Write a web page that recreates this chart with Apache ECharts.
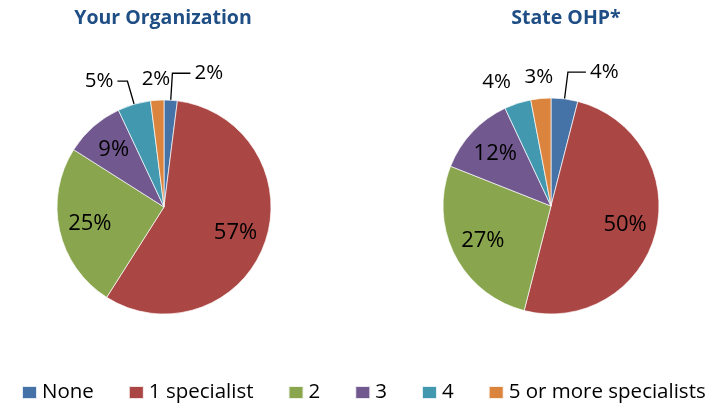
<!DOCTYPE html>
<html>
<head>
<meta charset="utf-8">
<script src="https://cdn.jsdelivr.net/npm/echarts@6/dist/echarts.min.js"></script>
<style>
  html, body { margin: 0; padding: 0; background: #ffffff; }
  #chart { width: 714px; height: 405px; }
</style>
</head>
<body>
<div id="chart"></div>
<script>
// Number of specialists on staff, share of respondents (%)
const categories = ['None', '1 specialist', '2', '3', '4', '5 or more specialists'];
const yourOrganization = [2, 57, 25, 9, 5, 2];
const stateOHP = [4, 50, 27, 12, 4, 3];
const panelTitles = ['Your Organization', 'State OHP*'];

const palette = ['#4572A7', '#AA4643', '#89A54E', '#71588F', '#4198AF', '#DB843D'];
const FONT = '"Open Sans", "Noto Sans", sans-serif';

// Small slices get their label outside the pie; some of them use a leader line.
const labelOutside = [true, false, false, false, true, true];
const leaderLines = [
  [true, false, false, false, true, false],
  [true, false, false, false, false, false]
];
// how a leader-less outside label is aligned on its anchor point
const freeLabelAlign = [
  [null, null, null, null, null, 'center'],
  [null, null, null, null, 'right', 'center']
];

const pies = [
  { values: yourOrganization, center: [164, 207], radius: 107, titleX: 158 },
  { values: stateOHP, center: [551, 206], radius: 108, titleX: 561 }
];

function outsideItem(pieIdx, i, v) {
  const leader = leaderLines[pieIdx][i];
  return {
    name: categories[i],
    value: v,
    label: leader
      ? { show: true, position: 'outside', distanceToLabelLine: 4 }
      : { show: true, position: 'outside', distanceToLabelLine: 0 },
    labelLine: leader
      ? { show: true, length: i === 0 ? 27 : 24, length2: i === 0 ? 18 : 10 }
      : { show: false, length: i === 4 ? 22 : 21, length2: 0 }
  };
}

const series = [];
// the visible slices, with the outside labels
pies.forEach((p, pieIdx) => {
  series.push({
    type: 'pie',
    id: 'slices' + pieIdx,
    center: p.center,
    radius: [0, p.radius],
    startAngle: 90,
    clockwise: true,
    avoidLabelOverlap: false,
    silent: true,
    itemStyle: { borderColor: 'rgba(255,255,255,0.85)', borderWidth: 0.8 },
    label: {
      formatter: '{c}%',
      color: '#000',
      fontFamily: FONT,
      fontSize: 20.5,
      textBorderWidth: 0
    },
    labelLine: { lineStyle: { color: '#000', width: 1.3 } },
    labelLayout: function (params) {
      const a = freeLabelAlign[pieIdx][params.dataIndex];
      return a ? { align: a } : {};
    },
    data: p.values.map((v, i) => labelOutside[i]
      ? outsideItem(pieIdx, i, v)
      : { name: categories[i], value: v, label: { show: false }, labelLine: { show: false } })
  });
});
// transparent companion pie that carries the in-slice labels further out from the centre
pies.forEach((p, pieIdx) => {
  series.push({
    type: 'pie',
    id: 'inner' + pieIdx,
    center: p.center,
    radius: [0, Math.round(p.radius * 1.36)],
    startAngle: 90,
    clockwise: true,
    silent: true,
    avoidLabelOverlap: false,
    emphasis: { disabled: true },
    itemStyle: { color: 'rgba(0,0,0,0)', borderWidth: 0 },
    label: {
      position: 'inside',
      formatter: '{c}%',
      color: '#000',
      fontFamily: FONT,
      fontSize: 22,
      textBorderWidth: 0
    },
    labelLine: { show: false },
    data: p.values.map((v, i) => ({
      name: categories[i],
      value: v,
      label: { show: !labelOutside[i] }
    }))
  });
});

const chart = echarts.init(document.getElementById('chart'), null, { renderer: 'canvas' });
chart.setOption({
  animation: false,
  color: palette,
  title: pies.map((p, k) => ({
    text: panelTitles[k],
    left: p.titleX,
    top: 3,
    textAlign: 'center',
    textStyle: { fontFamily: FONT, fontSize: 19.5, fontWeight: 'bold', color: '#1F4E85' }
  })),
  legend: {
    data: categories,
    left: 16,
    top: 377,
    width: 712,
    icon: 'rect',
    itemWidth: 15,
    itemHeight: 13,
    itemGap: 34,
    selectedMode: false,
    textStyle: { fontFamily: FONT, fontSize: 20.5, color: '#000' }
  },
  series: series
});
</script>
</body>
</html>
